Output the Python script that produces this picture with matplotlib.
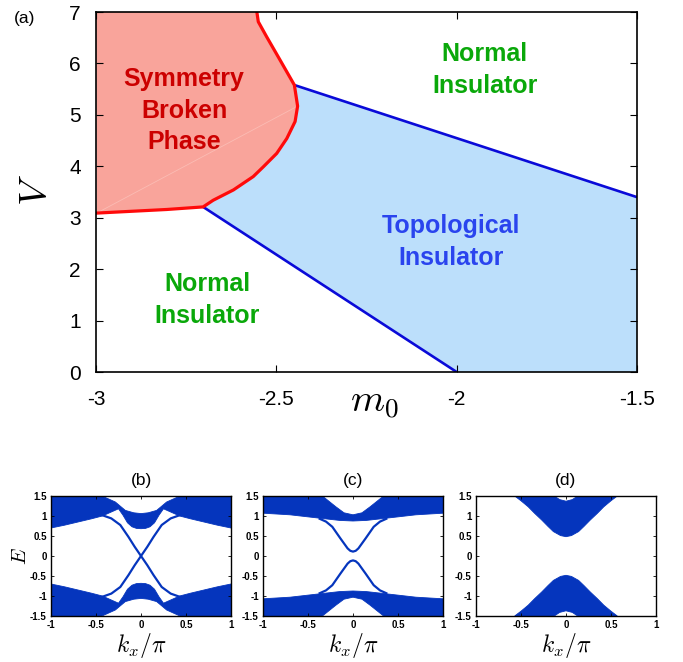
import matplotlib
matplotlib.use('Agg')
import matplotlib.pyplot as plt

plt.rcParams['font.family'] = ['Liberation Sans', 'DejaVu Sans']
plt.rcParams['mathtext.fontset'] = 'cm'

# ---- (a) phase diagram boundaries ----
# symmetry broken phase boundary (red), top -> bottom
sb_m0 = [-2.554, -2.550, -2.527, -2.490, -2.450, -2.441, -2.448, -2.471, -2.499,
         -2.536, -2.564, -2.619, -2.675, -2.703, -2.804, -2.998]
sb_V = [7.0, 6.81, 6.52, 6.07, 5.58, 5.17, 4.87, 4.54, 4.25,
        3.99, 3.80, 3.54, 3.34, 3.21, 3.16, 3.09]
# topological insulator boundaries (blue)
ti_low_m0 = [-2.703, -2.0]
ti_low_V = [3.21, 0.0]
ti_up_m0 = [-2.450, -1.5]
ti_up_V = [5.58, 3.40]

m0_ticks = [-3, -2.5, -2, -1.5]
V_ticks = [0, 1, 2, 3, 4, 5, 6, 7]

# ---- (b)-(d) band structures ----
# valence band outlines (kx/pi, E); conduction band is the E -> -E image
vb_b_k = [-1, -1, -0.85, -0.7, -0.55, -0.43, -0.33, -0.25, -0.2, -0.15, -0.1, -0.05, 0,
          0.05, 0.1, 0.15, 0.2, 0.25, 0.33, 0.43, 0.55, 0.7, 0.85, 1, 1,
          0.433, 0.285, 0.174, 0.08, 0, -0.08, -0.174, -0.285, -0.433]
vb_b_E = [-1.5, -0.70, -0.77, -0.85, -0.93, -1.0, -1.10, -1.18, -1.02, -0.83, -0.73, -0.69, -0.683,
          -0.69, -0.73, -0.83, -1.02, -1.18, -1.10, -1.0, -0.93, -0.85, -0.77, -0.70, -1.5,
          -1.5, -1.35, -1.14, -1.08, -1.06, -1.08, -1.14, -1.35, -1.5]
# edge state running from upper left to lower right (the other one is its mirror)
es_b_k = [-0.43, -0.33, -0.23, -0.14, -0.07, 0, 0.07, 0.14, 0.23, 0.33, 0.43]
es_b_E = [1.02, 0.94, 0.775, 0.48, 0.23, 0, -0.23, -0.48, -0.775, -0.94, -1.02]

vb_c_k = [-1, -1, -0.7, -0.35, -0.15, 0, 0.15, 0.35, 0.7, 1, 1,
          0.34, 0.19, 0.1, 0, -0.1, -0.19, -0.34]
vb_c_E = [-1.5, -1.07, -1.03, -0.94, -0.89, -0.875, -0.89, -0.94, -1.03, -1.07, -1.5,
          -1.5, -1.23, -1.08, -1.03, -1.08, -1.23, -1.5]
# upper gapped edge state (lower one is E -> -E)
es_c_k = [-0.37, -0.30, -0.23, -0.14, -0.06, -0.03, 0, 0.03, 0.06, 0.14, 0.23, 0.30, 0.37]
es_c_E = [0.93, 0.86, 0.73, 0.44, 0.19, 0.13, 0.11, 0.13, 0.19, 0.44, 0.73, 0.86, 0.93]

vb_d_k = [-0.57, -0.5, -0.42, -0.35, -0.27, -0.2, -0.14, -0.06, 0,
          0.06, 0.14, 0.2, 0.27, 0.35, 0.42, 0.5, 0.57,
          0.13, 0.07, 0, -0.07, -0.13]
vb_d_E = [-1.5, -1.38, -1.23, -1.07, -0.9, -0.74, -0.61, -0.51, -0.483,
          -0.51, -0.61, -0.74, -0.9, -1.07, -1.23, -1.38, -1.5,
          -1.5, -1.41, -1.37, -1.41, -1.5]

k_ticks = [-1, -0.5, 0, 0.5, 1]
k_ticklabels = ['-1', '-0.5', '0', '0.5', '1']
E_ticks = [-1.5, -1, -0.5, 0, 0.5, 1, 1.5]
E_ticklabels = ['-1.5', '-1', '-0.5', '0', '0.5', '1', '1.5']

W, H = 683, 662
band_col = '#0535bd'


def fx(x):
    return x / W


def fy(y):
    return 1 - y / H


fig = plt.figure(figsize=(W / 100, H / 100), dpi=100)

# ---- panel (a) ----
ax = fig.add_axes([fx(96), fy(372), (637 - 96) / W, 360 / H])
ax.fill(sb_m0 + [-3.0], sb_V + [7.0], color='#f9a49b', lw=0)
ti_m0 = [ti_low_m0[0], ti_low_m0[1], -1.5, -1.5, ti_up_m0[0]] + sb_m0[5:13]
ti_V = [ti_low_V[0], ti_low_V[1], 0.0, ti_up_V[1], ti_up_V[0]] + sb_V[5:13]
ax.fill(ti_m0, ti_V, color='#bcdffb', lw=0)
ax.plot([sb_m0[-1], sb_m0[5]], [sb_V[-1], sb_V[5]], color='#fbbcb4', lw=0.6)
ax.plot(ti_low_m0, ti_low_V, color='#0a0ad8', lw=1.9, solid_capstyle='butt')
ax.plot(ti_up_m0, ti_up_V, color='#0a0ad8', lw=1.9, solid_capstyle='butt')
ax.plot(sb_m0, sb_V, color='#ff0a0a', lw=2.3)
ax.set_xlim(-3, -1.5)
ax.set_ylim(0, 7)
ax.set_xticks(m0_ticks)
ax.set_xticklabels(['-3', '-2.5', '-2', '-1.5'])
ax.set_yticks(V_ticks)
ax.tick_params(direction='in', top=True, right=True, length=5, width=0.8,
               labelsize=15)
ax.tick_params(axis='x', pad=13)
ax.tick_params(axis='y', pad=11)
for s in ax.spines.values():
    s.set_linewidth(1.2)

txt = dict(fontsize=18, fontweight='bold', ha='center', va='center',
           multialignment='center', linespacing=1.4)
ax.text(-2.756, 5.08, 'Symmetry\nBroken\nPhase', color='#cc0000', **txt)
ax.text(-1.922, 5.87, 'Normal\nInsulator', color='#0aa80a', **txt)
ax.text(-2.692, 1.40, 'Normal\nInsulator', color='#0aa80a', **txt)
ax.text(-2.016, 2.53, 'Topological\nInsulator', color='#2a44ee', **txt)

fig.text(fx(25), fy(19), '(a)', fontsize=12.5, ha='center', va='center')
fig.text(fx(37), fy(190), '$V$', fontsize=28, ha='center', va='center', rotation=90)
fig.text(fx(374), fy(403), '$m_0$', fontsize=28, ha='center', va='center')

# ---- panels (b)-(d) ----
panels = [
    (51, '(b)', vb_b_k, vb_b_E, 'cross'),
    (263, '(c)', vb_c_k, vb_c_E, 'gap'),
    (476, '(d)', vb_d_k, vb_d_E, None),
]
for left, lab, vk, vE, edge in panels:
    bx = fig.add_axes([fx(left), fy(616), 180 / W, 120 / H])
    bx.fill(vk, vE, color=band_col, lw=0.6, ec=band_col)
    bx.fill(vk, [-e for e in vE], color=band_col, lw=0.6, ec=band_col)
    if edge == 'cross':
        bx.plot(es_b_k, es_b_E, color=band_col, lw=1.6)
        bx.plot(es_b_k, es_b_E[::-1], color=band_col, lw=1.6)
    elif edge == 'gap':
        bx.plot(es_c_k, es_c_E, color=band_col, lw=1.6)
        bx.plot(es_c_k, [-e for e in es_c_E], color=band_col, lw=1.6)
    bx.set_xlim(-1, 1)
    bx.set_ylim(-1.5, 1.5)
    bx.set_xticks(k_ticks)
    bx.set_xticklabels(k_ticklabels)
    bx.set_yticks(E_ticks)
    bx.set_yticklabels(E_ticklabels)
    bx.tick_params(direction='in', top=True, right=True, length=2.5, width=0.6,
                   labelsize=7, pad=3)
    for t in bx.get_xticklabels() + bx.get_yticklabels():
        t.set_fontweight('bold')
    for s in bx.spines.values():
        s.set_linewidth(1.0)
    fig.text(fx(left + 90), fy(481), lab, fontsize=12.5, ha='center', va='center')
    fig.text(fx(left + 90), fy(645), r'$k_x/\pi$', fontsize=17, ha='center', va='center')

fig.text(fx(20), fy(556), '$E$', fontsize=15, ha='center', va='center', rotation=90)

fig.savefig('out.png', dpi=100)
